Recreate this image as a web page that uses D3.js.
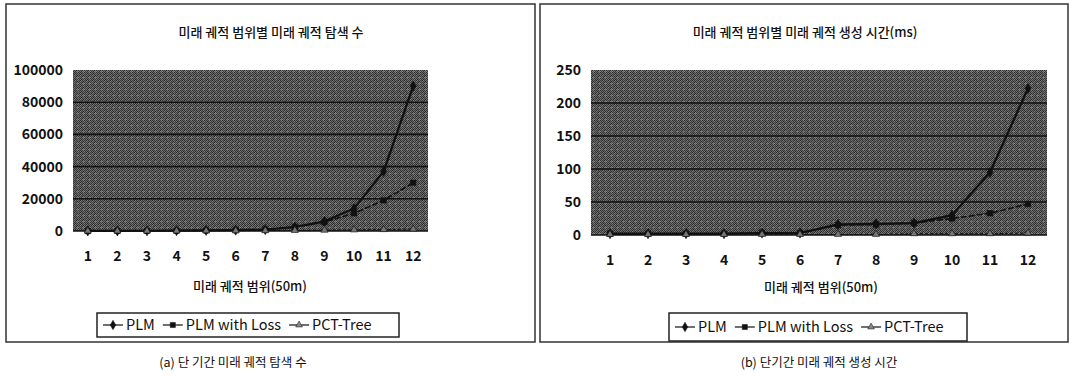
<!DOCTYPE html>
<html><head><meta charset="utf-8">
<script src="https://cdn.jsdelivr.net/npm/d3@7"></script>
<style>
body{margin:0;background:#fff;}
svg{display:block;}
text{font-family:"Noto Sans CJK KR","DejaVu Sans",sans-serif;fill:#111;}
</style></head><body>
<svg id="c" width="1074" height="376"></svg>
<script>
const categories = ["1","2","3","4","5","6","7","8","9","10","11","12"];
const seriesNames = ["PLM","PLM with Loss","PCT-Tree"];

// (a) search counts
const countPLM     = [50, 100, 150, 250, 400, 600, 900, 2500, 6000, 14000, 37000, 90000];
const countPLMLoss = [50, 100, 150, 250, 400, 600, 900, 2500, 5500, 11000, 19000, 30000];
const countPCT     = [20, 30, 50, 80, 120, 170, 250, 350, 500, 700, 900, 1200];
const countTicks   = [0, 20000, 40000, 60000, 80000, 100000];

// (b) generation time (ms)
const timePLM     = [2, 2, 2, 2, 3, 3, 16, 17, 18, 30, 95, 222];
const timePLMLoss = [2, 2, 2, 2, 3, 3, 15, 16, 18, 25, 33, 47];
const timePCT     = [1, 1, 1, 1, 1, 1, 1, 1, 2, 2, 2, 3];
const timeTicks   = [0, 50, 100, 150, 200, 250];

const svg = d3.select("#c");
const defs = svg.append("defs");
const tile = [
  "3a9a4c8a5ba2",
  "a44c9a3b8c5a",
  "5b8a3ca64a9b",
  "9c4ba55a8b3c",
  "4a9c5b8a3ba4",
  "b55a9c4ba48a"
];
const pat = defs.append("pattern").attr("id","dither").attr("patternUnits","userSpaceOnUse")
  .attr("width",6).attr("height",6);
tile.forEach((row,yy)=>{
  for(let xx=0;xx<6;xx++){
    const h = row.substr(xx*2,2);
    const v = Math.round(parseInt(h[0],16)*16*0.78);
    pat.append("rect").attr("x",xx).attr("y",yy).attr("width",1).attr("height",1)
      .attr("fill",`rgb(${v},${v},${v})`);
  }
});

const narrow = "'DejaVu Sans Condensed','Liberation Sans',sans-serif";

function panel(cfg){
  const g = svg.append("g");
  g.append("rect").attr("x",cfg.box[0]).attr("y",cfg.box[1]).attr("width",cfg.box[2]).attr("height",cfg.box[3])
    .attr("fill","none").attr("stroke","#333").attr("stroke-width",1.5);
  g.append("text").attr("x",cfg.titleX).attr("y",37).attr("text-anchor","middle")
    .attr("font-size",13).attr("font-weight",500).text(cfg.title);
  const x = d3.scaleBand().domain(categories).range([cfg.pl,cfg.pr]);
  const y = d3.scaleLinear().domain([0,cfg.max]).range([cfg.pb,cfg.pt]);
  g.append("rect").attr("x",cfg.pl).attr("y",cfg.pt).attr("width",cfg.pr-cfg.pl).attr("height",cfg.pb-cfg.pt)
    .attr("fill","url(#dither)");
  g.append("g").selectAll("line").data(cfg.ticks.slice(1,-1)).join("line")
    .attr("x1",cfg.pl).attr("x2",cfg.pr).attr("y1",d=>y(d)).attr("y2",d=>y(d))
    .attr("stroke","#111").attr("stroke-width",1.6);
  g.append("line").attr("x1",cfg.pl).attr("x2",cfg.pr).attr("y1",cfg.pb).attr("y2",cfg.pb)
    .attr("stroke","#111").attr("stroke-width",1.6);
  const ya = g.append("g").attr("transform",`translate(${cfg.pl},0)`)
    .call(d3.axisLeft(y).tickValues(cfg.ticks).tickSize(0).tickPadding(cfg.ypad).tickFormat(d3.format("d")));
  ya.select(".domain").remove();
  ya.selectAll("text").attr("font-size",14).attr("font-weight","bold").attr("font-family",narrow).attr("fill","#111");
  const xa = g.append("g").attr("transform",`translate(0,${cfg.pb})`)
    .call(d3.axisBottom(x).tickSize(0).tickPadding(cfg.xpad));
  xa.select(".domain").remove();
  xa.selectAll("text").attr("font-size",14).attr("font-weight","bold").attr("font-family",narrow).attr("fill","#111");
  g.append("text").attr("x",cfg.axisX).attr("y",cfg.axisY).attr("text-anchor","middle").attr("font-size",13).attr("font-weight",500).text(cfg.axisTitle);

  const styles = [
    {w:2.2, dash:null, marker:"diamond"},
    {w:1.6, dash:"6,2", marker:"square"},
    {w:1, dash:"3,2", marker:"triangle"}
  ];
  const syms = {diamond:d3.symbolDiamond,square:d3.symbolSquare,triangle:d3.symbolTriangle};
  const line = d3.line().x((d,i)=>x(categories[i])+x.bandwidth()/2).y(d=>y(d));
  cfg.series.forEach((s,k)=>{
    g.append("path").datum(s).attr("d",line).attr("fill","none").attr("stroke","#111")
      .attr("stroke-width",styles[k].w).attr("stroke-dasharray",styles[k].dash);
    g.append("g").selectAll("path").data(s).join("path")
      .attr("transform",(d,i)=>`translate(${x(categories[i])+x.bandwidth()/2},${y(d)})`)
      .attr("d",d3.symbol().type(syms[styles[k].marker]).size(k===2?22:30))
      .attr("fill",k===2?"#777":"#111").attr("stroke","#111").attr("stroke-width",0.6);
  });
  const L = cfg.legend;
  g.append("rect").attr("x",L[0]).attr("y",L[1]).attr("width",L[2]).attr("height",L[3])
    .attr("fill","#fff").attr("stroke","#222").attr("stroke-width",1.5);
  let lx = L[0]+6;
  const ly = L[1]+L[3]/2;
  seriesNames.forEach((n,k)=>{
    g.append("line").attr("x1",lx).attr("x2",lx+20).attr("y1",ly).attr("y2",ly).attr("stroke","#111").attr("stroke-width",1.2);
    g.append("path").attr("transform",`translate(${lx+10},${ly})`).attr("d",d3.symbol().type(syms[styles[k].marker]).size(k===2?20:26))
      .attr("fill",k===2?"#888":"#111").attr("stroke","#111").attr("stroke-width",0.5);
    const t = g.append("text").attr("x",lx+23).attr("y",ly+5).attr("font-size",14.5)
      .attr("font-family",narrow).text(n);
    lx += 23 + t.node().getComputedTextLength() + 8;
  });
  g.append("text").attr("x",cfg.capX).attr("y",367).attr("text-anchor","middle").attr("font-size",12.5).text(cfg.caption);
}

panel({box:[6,4,529,338], title:"미래 궤적 범위별 미래 궤적 탐색 수", titleX:271,
  pl:73, pr:428, pt:70, pb:231, max:100000, ticks:countTicks, ypad:10, xpad:20,
  axisTitle:"미래 궤적 범위(50m)", axisX:250, axisY:291,
  series:[countPLM,countPLMLoss,countPCT], legend:[97,313,302,24],
  caption:"(a) 단 기간 미래 궤적 탐색 수", capX:233});

panel({box:[540,4,528,338], title:"미래 궤적 범위별 미래 궤적 생성 시간(ms)", titleX:805,
  pl:591, pr:1047, pt:70, pb:235, max:250, ticks:timeTicks, ypad:10, xpad:20,
  axisTitle:"미래 궤적 범위(50m)", axisX:821, axisY:292,
  series:[timePLM,timePLMLoss,timePCT], legend:[669,313,298,28],
  caption:"(b) 단기간 미래 궤적 생성 시간", capX:819});
</script>
</body></html>
